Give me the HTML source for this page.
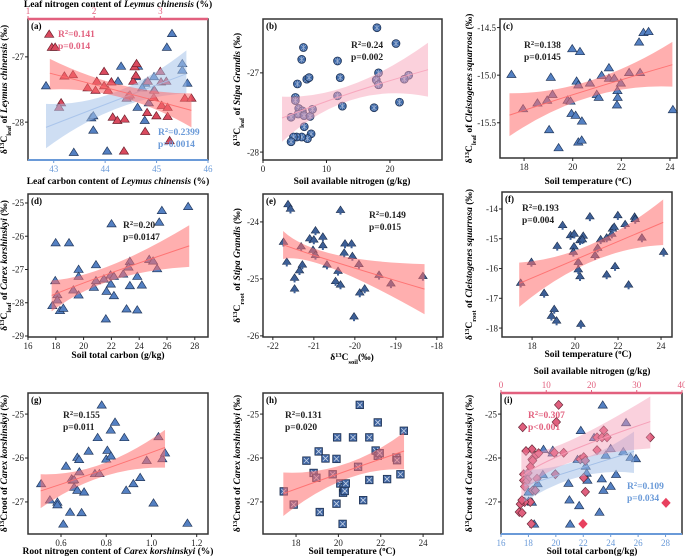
<!DOCTYPE html>
<html><head><meta charset="utf-8"><style>
html,body{margin:0;padding:0;background:#fff;}
svg{display:block;font-family:"Liberation Serif",serif;}
</style></head><body>
<svg id="chart" width="685" height="559" viewBox="0 0 685 559" xmlns="http://www.w3.org/2000/svg"></svg>
<script>
// ---------- DATA ----------
const aCarbonPts=[[45.3,-26.64],[42.85,-27.44],[44.31,-27.14],[44.64,-27.14],[44.6,-27.3],[44.78,-27.4],[44.95,-27.3],[45.5,-27.1],[45.5,-27.2],[45.6,-27.4],[45.2,-26.85],[44.72,-27.47],[44.25,-27.37],[43.73,-27.93],[43.77,-27.9],[43.77,-28.12],[44.63,-27.77],[44.77,-27.97],[43.39,-28.46],[44.04,-28.44],[44.95,-27.5],[44.45,-27.6],[44.85,-27.7]];
const aNitrogenPts=[[1.32,-26.65],[1.36,-26.85],[1.41,-26.85],[1.55,-27.29],[1.68,-27.27],[1.5,-27.7],[1.47,-27.77],[1.9,-27.47],[2.02,-27.51],[2.04,-27.37],[2.15,-27.22],[2.21,-27.51],[2.26,-27.38],[2.15,-27.44],[2.28,-27.92],[2.35,-27.97],[2.46,-27.95],[2.49,-27.63],[2.59,-27.37],[2.61,-27.15],[2.64,-27.1],[2.63,-27.28],[2.81,-27.37],[2.8,-27.85],[2.91,-27.51],[3.0,-27.22],[3.01,-27.38],[3.09,-27.37],[2.94,-27.9],[3.02,-27.74],[3.11,-27.77],[3.11,-27.91],[3.14,-28.28],[2.45,-28.44],[2.77,-28.14],[3.37,-27.63],[3.47,-27.63],[2.54,-27.58],[2.9,-27.62]];
const bPts=[[17.95,-26.43],[20.95,-26.63],[6.37,-26.68],[6.1,-26.83],[11.74,-26.85],[6.9,-27.08],[7.26,-27.06],[5.42,-27.14],[12.16,-27.06],[18.2,-27.0],[17.84,-27.09],[18.2,-27.15],[22.95,-27.03],[22.26,-27.08],[5.1,-27.31],[5.1,-27.35],[11.74,-27.29],[12.5,-27.42],[17.5,-27.44],[21.5,-27.37],[5.63,-27.45],[6.2,-27.48],[6.26,-27.51],[5.53,-27.52],[6.47,-27.54],[7.42,-27.55],[7.8,-27.46],[4.42,-27.56],[6.5,-27.68],[7.58,-27.77],[7.0,-27.83],[6.1,-27.81],[5.3,-27.81],[4.8,-27.81],[4.42,-27.87]];
const cPts=[[17.48,-14.99],[19.1,-15.02],[19.98,-14.72],[20.3,-14.75],[20.16,-15.06],[20.23,-15.1],[20.71,-15.08],[21.19,-15.0],[21.49,-14.92],[21.49,-15.03],[21.71,-15.03],[21.98,-15.08],[21.84,-15.16],[21.85,-15.23],[21.82,-15.31],[22.32,-14.97],[22.77,-14.97],[22.73,-14.65],[22.91,-14.55],[23.12,-14.54],[24.12,-15.36],[19.17,-15.2],[18.95,-15.26],[18.55,-15.29],[17.96,-15.35],[19.79,-15.26],[19.91,-15.27],[20.99,-15.2],[21.07,-15.23],[19.95,-15.4],[20.12,-15.42],[20.38,-15.48],[19.03,-15.57],[19.42,-15.76],[20.23,-15.7],[20.37,-15.68]];
const dPts=[[17.99,-26.19],[18.95,-26.19],[19.64,-26.99],[19.64,-27.2],[20.89,-26.85],[22.01,-25.62],[23.33,-26.75],[25.63,-25.22],[25.44,-25.57],[27.52,-25.1],[17.96,-27.33],[18.11,-27.75],[18.11,-27.91],[17.75,-28.08],[18.3,-28.23],[18.54,-28.16],[19.26,-27.61],[19.64,-27.76],[20.74,-27.53],[20.89,-27.33],[21.46,-27.28],[21.94,-27.16],[22.18,-27.2],[22.85,-27.13],[23.23,-26.92],[23.86,-27.2],[24.19,-27.46],[23.33,-27.48],[21.96,-27.43],[21.65,-27.65],[22.18,-27.78],[23.09,-28.18],[23.86,-28.21],[21.6,-28.48],[24.72,-26.69],[25.0,-26.74],[25.29,-26.97]];
const ePts=[[-21.63,-23.7],[-21.57,-23.78],[-20.35,-23.8],[-21.74,-24.36],[-21.66,-24.71],[-21.47,-24.99],[-21.47,-25.18],[-21.35,-24.86],[-21.28,-24.76],[-21.31,-24.44],[-21.1,-24.3],[-21.0,-24.32],[-20.96,-24.16],[-21.02,-24.5],[-20.96,-24.59],[-20.78,-24.42],[-20.78,-24.27],[-20.68,-24.76],[-20.41,-24.87],[-20.47,-25.05],[-20.35,-25.11],[-20.26,-24.55],[-20.24,-24.39],[-20.08,-24.39],[-20.06,-24.61],[-19.9,-24.75],[-19.88,-25.25],[-19.76,-25.18],[-20.02,-25.67],[-19.41,-24.94],[-19.12,-25.09],[-18.34,-24.96]];
const fPts=[[17.47,-16.5],[17.97,-15.8],[18.56,-16.84],[18.9,-17.61],[19.03,-17.38],[19.14,-17.77],[19.17,-15.26],[19.42,-14.56],[19.79,-14.9],[19.96,-14.85],[19.95,-15.28],[19.92,-15.46],[20.15,-15.8],[20.23,-16.28],[20.15,-16.05],[20.23,-15.07],[20.38,-14.92],[20.34,-15.04],[20.69,-14.27],[21.19,-15.04],[21.05,-15.32],[20.93,-15.57],[21.47,-14.98],[21.71,-14.85],[21.74,-14.68],[21.82,-14.62],[21.86,-15.94],[21.99,-14.23],[22.33,-14.53],[22.77,-14.28],[22.8,-14.36],[23.11,-14.98],[21.47,-16.22],[22.49,-16.56],[20.27,-17.88],[24.12,-15.46]];
const gPts=[[0.512,-26.58],[0.551,-26.95],[0.584,-27.0],[0.584,-27.06],[0.61,-27.5],[0.64,-27.23],[0.622,-26.18],[0.647,-26.47],[0.652,-26.5],[0.658,-26.49],[0.658,-26.66],[0.672,-26.73],[0.681,-26.31],[0.672,-25.98],[0.68,-26.03],[0.691,-27.24],[0.702,-26.77],[0.722,-25.84],[0.75,-26.35],[0.77,-26.35],[0.762,-25.53],[0.78,-24.79],[0.8,-26.02],[0.805,-25.82],[0.821,-25.95],[0.82,-25.36],[0.839,-25.18],[0.88,-25.53],[0.888,-26.73],[0.95,-26.44],[0.92,-26.58],[0.979,-26.05],[1.009,-27.02],[1.031,-25.51],[1.048,-26.01],[1.06,-25.88],[1.159,-27.48]];
const hPts=[[17.42,-26.76],[17.89,-27.06],[18.83,-26.34],[18.96,-26.45],[19.12,-27.23],[19.07,-25.85],[18.49,-26.06],[19.39,-26.01],[19.73,-26.37],[19.91,-26.02],[19.94,-25.53],[19.91,-27.04],[20.09,-26.58],[20.22,-26.79],[20.25,-26.67],[20.3,-26.75],[20.35,-26.58],[20.2,-27.5],[20.69,-25.53],[20.93,-26.2],[21.01,-24.79],[21.17,-26.96],[21.46,-25.53],[21.46,-26.5],[21.76,-25.83],[21.86,-25.95],[21.95,-25.89],[21.86,-25.19],[22.3,-26.48],[22.74,-25.99],[22.77,-26.05],[22.93,-26.37],[23.09,-25.38]];
const iCarbonPts=[[23.42,-24.79],[25.12,-25.19],[21.82,-25.37],[19.76,-25.88],[19.1,-25.8],[19.78,-25.82],[22.79,-25.53],[23.64,-25.93],[24.0,-25.78],[24.92,-25.85],[25.45,-25.98],[25.84,-26.01],[21.58,-26.03],[22.08,-26.01],[22.18,-26.18],[22.25,-26.34],[22.3,-26.5],[23.35,-26.47],[23.47,-26.73],[24.0,-26.64],[24.39,-26.37],[19.05,-26.37],[18.67,-26.58],[18.01,-26.77],[18.01,-26.98],[18.25,-27.0],[18.42,-27.5],[20.92,-26.57],[20.99,-26.95],[21.7,-27.08],[21.04,-27.5],[23.18,-27.23]];
const iNitrogenPts=[[12.74,-24.79],[12.23,-25.18],[4.79,-25.3],[6.85,-25.8],[5.52,-25.84],[7.59,-25.95],[6.85,-26.03],[7.0,-26.06],[8.32,-25.89],[11.79,-25.88],[13.85,-25.88],[17.53,-26.03],[18.27,-25.98],[18.64,-26.06],[12.01,-26.37],[5.01,-26.37],[5.97,-26.34],[6.48,-26.2],[5.89,-26.49],[5.01,-26.51],[5.52,-26.55],[5.23,-26.65],[7.96,-26.47],[7.0,-26.74],[7.59,-26.74],[6.48,-27.0],[5.23,-27.0],[4.27,-27.05],[4.64,-26.96],[4.05,-27.23],[4.64,-27.25],[6.7,-27.5],[18.27,-26.45],[18.64,-26.77],[22.69,-25.37],[21.22,-25.53],[22.32,-25.53],[23.43,-25.53],[21.22,-25.82],[33.0,-25.53]];
const iOutlierPts=[[36.46,-27.02],[18.12,-27.5]];
// bands: x (start, mid, end), fit, lower, upper
const aRedBandX=[1.33,2.4,3.47], aRedFit=[-27.25,-27.53,-27.82], aRedLo=[-27.5,-27.62,-28.08], aRedHi=[-27.03,-27.43,-27.56];
const aBlueBandX=[42.85,44.2,45.58], aBlueFit=[-28.08,-27.67,-27.26], aBlueLo=[-28.4,-27.8,-27.56], aBlueHi=[-27.72,-27.54,-26.9];
const bBandX=[3,14,26], bFit=[-27.57,-27.25,-26.96], bLo=[-27.87,-27.34,-27.3], bHi=[-27.3,-27.15,-26.62];
const cBandX=[17.4,20.7,24.1], cFit=[-15.42,-15.15,-14.89], cLo=[-15.64,-15.23,-15.12], cHi=[-15.19,-15.06,-14.65];
const dBandX=[17.7,22,27.6], dFit=[-27.78,-27.1,-26.29], dLo=[-28.26,-27.33,-26.92], dHi=[-27.33,-26.87,-25.67];
const eBandX=[-21.75,-20.5,-18.3], eFit=[-24.4,-24.7,-25.18], eLo=[-24.65,-24.83,-25.62], eHi=[-24.16,-24.57,-24.74];
const fBandX=[17.4,20.7,24.1], fFit=[-16.5,-15.49,-14.45], fLo=[-17.29,-15.79,-15.21], fHi=[-15.8,-15.2,-13.68];
const gBandX=[0.51,0.78,1.06], gFit=[-26.75,-26.28,-25.76], gLo=[-27.14,-26.43,-26.22], gHi=[-26.37,-26.14,-25.36];
const hBandX=[17.4,20.3,23.1], hFit=[-26.81,-26.31,-25.84], hLo=[-27.32,-26.49,-26.26], hHi=[-26.33,-26.14,-25.42];
const iPinkBandX=[4.5,14,33], iPinkFit=[-26.43,-25.9,-25.17], iPinkLo=[-26.92,-26.15,-25.78], iPinkHi=[-25.85,-25.66,-24.6];
const iBlueBandX=[17.7,21.7,25.7], iBlueFit=[-26.63,-26.24,-25.85], iBlueLo=[-27.0,-26.43,-26.34], iBlueHi=[-26.27,-26.05,-25.4];
// ticks
const aXTicks=[43,44,45,46], aTopTicks=[1,2,3], aYTicks=[-27,-28];
const bXTicks=[0,10,20], bYTicks=[-27,-28];
const cXTicks=[18,20,22,24], cYTicks=[-14.5,-15.0,-15.5];
const dXTicks=[16,18,20,22,24,26,28], dYTicks=[-25,-26,-27,-28,-29];
const eXTicks=[-22,-21,-20,-19,-18], eYTicks=[-24,-25,-26];
const fXTicks=[18,20,22,24], fYTicks=[-14,-15,-16,-17,-18];
const gXTicks=[0.6,0.8,1.0,1.2], gYTicks=[-25,-26,-27];
const hXTicks=[18,20,22,24], hYTicks=[-25,-26,-27];
const iXTicks=[16,18,20,22,24,26,28], iTopTicks=[0,10,20,30,40], iYTicks=[-25,-26,-27];

// ---------- DRAWING ----------
const NS='http://www.w3.org/2000/svg';
const svg=document.getElementById('chart');
function mk(tag,attrs,parent){const e=document.createElementNS(NS,tag);for(const k in attrs)e.setAttribute(k,attrs[k]);(parent||svg).appendChild(e);return e;}
function fmt(v,dec){const s=Math.abs(v).toFixed(dec);return (v<0?'-':'')+s;}
function makeScale(d0,d1,p0,p1){return v=>p0+(v-d0)/(d1-d0)*(p1-p0);}

function drawMarker(g,shape,x,y,fill,stroke){
  let m;
  if(shape==='tri'){m=mk('polygon',{points:`${x},${y-4} ${x-4.6},${y+3.3} ${x+4.6},${y+3.3}`,fill:fill,stroke:stroke,'stroke-width':0.7},g);}
  else if(shape==='club'){m=mk('g',{},g);
    mk('polygon',{points:`${x},${y-4.5} ${x-4.3},${y+2} ${x+4.3},${y+2}`,fill:fill,stroke:stroke,'stroke-width':0.6},m);
    mk('rect',{x:x-1,y:y+1.5,width:2,height:2.6,fill:fill},m);}
  else if(shape==='star'){m=mk('g',{},g);
    mk('circle',{cx:x,cy:y,r:4,fill:fill,stroke:stroke,'stroke-width':0.7},m);
    mk('path',{d:`M${x-2.4},${y-2.4}L${x+2.4},${y+2.4}M${x+2.4},${y-2.4}L${x-2.4},${y+2.4}M${x},${y-3.2}L${x},${y+3.2}`,stroke:'#9fb3d4','stroke-width':0.7},m);}
  else if(shape==='sq'){m=mk('g',{},g);
    mk('rect',{x:x-3.8,y:y-3.8,width:7.6,height:7.6,fill:fill,stroke:stroke,'stroke-width':0.7},m);
    mk('path',{d:`M${x-2.5},${y-2.5}L${x+2.5},${y+2.5}M${x+2.5},${y-2.5}L${x-2.5},${y+2.5}`,stroke:'#c9d6ea','stroke-width':0.8},m);}
  else if(shape==='dia'){m=mk('polygon',{points:`${x},${y-4.5} ${x+4.2},${y} ${x},${y+4.5} ${x-4.2},${y}`,fill:fill,stroke:stroke,'stroke-width':0.7},g);}
  
  
}

function drawBand(g,sx,sy,bx,fit,lo,hi,color,op,name){
  function curve(vals){const S=[sx(bx[0]),sy(vals[0])],M=[sx(bx[1]),sy(vals[1])],E=[sx(bx[2]),sy(vals[2])];
    const C=[2*M[0]-(S[0]+E[0])/2,2*M[1]-(S[1]+E[1])/2];return {S,C,E};}
  const u=curve(hi),l=curve(lo),f=curve(fit);
  const band=mk('path',{d:`M${u.S[0]},${u.S[1]}Q${u.C[0]},${u.C[1]} ${u.E[0]},${u.E[1]}L${l.E[0]},${l.E[1]}Q${l.C[0]},${l.C[1]} ${l.S[0]},${l.S[1]}Z`,fill:color,'fill-opacity':op},g);
  
  
  const line=mk('path',{d:`M${f.S[0]},${f.S[1]}Q${f.C[0]},${f.C[1]} ${f.E[0]},${f.E[1]}`,fill:'none',stroke:color,'stroke-width':1,'stroke-opacity':0.9},g);
  
  
}

function axisX(g,ticks,sx,y,dir,dec,color){
  ticks.forEach(t=>{const x=sx(t);
    const tk=mk('line',{x1:x,x2:x,y1:y,y2:y+3*dir,stroke:color,'stroke-width':1},g);
    
    
    const lb=mk('text',{x:x,y:dir>0?y+12:y-5,'text-anchor':'middle','font-size':9,fill:color},g);
    
    
    lb.textContent=fmt(t,dec);});
}
function axisY(g,ticks,sy,x,dec){
  ticks.forEach(t=>{const y=sy(t);
    const tk=mk('line',{x1:x,x2:x-3,y1:y,y2:y,stroke:'#222','stroke-width':1},g);
    
    
    const lb=mk('text',{x:x-4,y:y+3.2,'text-anchor':'end','font-size':9,fill:'#222'},g);
    
    
    lb.textContent=fmt(t,dec);});
}
function richText(g,x,y,parts,attrs){
  const t=mk('text',Object.assign({x:x,y:y},attrs),g);
  parts.forEach(p=>{const s=mk('tspan',{},t);
    if(p.it)s.setAttribute('font-style','italic');
    if(p.sup){s.setAttribute('baseline-shift','super');s.setAttribute('font-size','6.5');}
    if(p.sub){s.setAttribute('baseline-shift','sub');s.setAttribute('font-size','6.5');}
    s.textContent=p.t;});
  return t;
}
function yTitle(g,x,y,sub,species){
  const parts=[{t:'\u03b4'},{t:'13',sup:1},{t:'C'}];
  if(sub)parts.push({t:sub,sub:1});else parts.push({t:'root'});
  parts.push({t:' of '},{t:species,it:1},{t:' (\u2030)'});
  const t=richText(g,0,0,parts,{'font-size':9.5,'font-weight':'bold','text-anchor':'middle',transform:`translate(${x},${y}) rotate(-90)`});
  
  
}
function annot(g,x,y,r2,p,color){
  const a=richText(g,x,y,[{t:'R'},{t:'2',sup:1},{t:'='+r2}],{'font-size':9.5,'font-weight':'bold',fill:color});
  
  
  const b=mk('text',{x:x,y:y+12,'font-size':9.5,'font-weight':'bold',fill:color},g);
  
  
  b.textContent=p;
}

function panel(cfg){
  const g=mk('g',{});
  
  
  const [x0,y0,x1,y1]=cfg.box;
  const sx=makeScale(cfg.xd[0],cfg.xd[1],x0,x1), sy=makeScale(cfg.yd[0],cfg.yd[1],y1,y0);
  cfg.series.forEach(s=>{const sxx=s.top?makeScale(cfg.td[0],cfg.td[1],x0,x1):sx;
    s.pts.forEach(p=>drawMarker(g,s.shape,sxx(p[0]),sy(p[1]),s.fill,s.stroke));});
  cfg.bands.forEach(b=>{const sxx=b.top?makeScale(cfg.td[0],cfg.td[1],x0,x1):sx;
    drawBand(g,sxx,sy,b.x,b.fit,b.lo,b.hi,b.color,b.op,b.name);});
  const fr=mk('rect',{x:x0,y:y0,width:x1-x0,height:y1-y0,fill:'none',stroke:'#333','stroke-width':1.5},g);
  
  
  if(cfg.bottomColor){const l=mk('line',{x1:x0,x2:x1,y1:y1,y2:y1,stroke:cfg.bottomColor,'stroke-width':2},g);
    
    }
  if(cfg.topTicks){const l=mk('line',{x1:x0,x2:x1,y1:y0,y2:y0,stroke:cfg.topColor,'stroke-width':2.5},g);
    
    
    axisX(g,cfg.topTicks,makeScale(cfg.td[0],cfg.td[1],x0,x1),y0,-1,0,cfg.topColor);}
  axisX(g,cfg.xTicks,sx,y1,1,cfg.xdec,cfg.bottomColor||'#222');
  axisY(g,cfg.yTicks,sy,x0,cfg.ydec);
  const lab=mk('text',{x:x0+3,y:y0+10,'font-size':9,'font-weight':'bold'},g);
  
  
  lab.textContent='('+cfg.id+')';
  yTitle(g,cfg.ytx,(y0+y1)/2,cfg.ysub,cfg.species);
  const xt=richText(g,cfg.xtx,cfg.xty,cfg.xtitle,{'font-size':9.5,'font-weight':'bold','text-anchor':'middle'});
  
  
  if(cfg.toptitle){const tt=richText(g,cfg.xtx,cfg.tty,cfg.toptitle,{'font-size':9.5,'font-weight':'bold','text-anchor':'middle'});
    
    }
  cfg.annots.forEach(a=>annot(g,a[0],a[1],a[2],a[3],a[4]));
}

const BLUE='#5480c2',BLUEE='#23395e',RED='#d94a5e',REDE='#6e1f2c',BAND='#ff6e6e',PINK='#e2607e';
const CK='Carex korshinskyi';
panel({id:'a',box:[28,19,208,160],xd:[42.5,46],yd:[-28.58,-26.42],td:[1.0,3.72],
  series:[{pts:aCarbonPts,shape:'tri',fill:BLUE,stroke:BLUEE},{pts:aNitrogenPts,shape:'tri',fill:RED,stroke:REDE,top:1}],
  bands:[{x:aBlueBandX,fit:aBlueFit,lo:aBlueLo,hi:aBlueHi,color:'#a6c2ea',op:0.55,name:'carbon'},{x:aRedBandX,fit:aRedFit,lo:aRedLo,hi:aRedHi,color:BAND,op:0.55,top:1,name:'nitrogen'}],
  xTicks:aXTicks,xdec:0,yTicks:aYTicks,ydec:0,topTicks:aTopTicks,topColor:PINK,bottomColor:'#6a9ad8',
  ytx:7,ysub:'leaf',species:'Leymus chinensis',xtx:118,xty:184,tty:7,
  xtitle:[{t:'Leaf carbon content of '},{t:'Leymus chinensis',it:1},{t:' (%)'}],
  toptitle:[{t:'Leaf nitrogen content of '},{t:'Leymus chinensis',it:1},{t:' (%)'}],
  annots:[[58,37,'0.141','p=0.014',PINK],[158,135,'0.2399','p=0.0014','#6a9ad8']]});
panel({id:'b',box:[263,19,442,160],xd:[0,28.2],yd:[-28.1,-26.32],
  series:[{pts:bPts,shape:'star',fill:'#3e69a8',stroke:'#1e3050'}],
  bands:[{x:bBandX,fit:bFit,lo:bLo,hi:bHi,color:'#f7a3ba',op:0.5,name:'fit'}],
  xTicks:bXTicks,xdec:0,yTicks:bYTicks,ydec:0,ytx:240,ysub:'leaf',species:'Stipa Grandis',xtx:352,xty:184,
  xtitle:[{t:'Soil available nitrogen (g/kg)'}],annots:[[351,48,'0.24','p=0.002','#222']]});
panel({id:'c',box:[500,19,677,158],xd:[17.01,24.29],yd:[-15.87,-14.41],
  series:[{pts:cPts,shape:'tri',fill:BLUE,stroke:BLUEE}],
  bands:[{x:cBandX,fit:cFit,lo:cLo,hi:cHi,color:BAND,op:0.55,name:'fit'}],
  xTicks:cXTicks,xdec:0,yTicks:cYTicks,ydec:1,ytx:472,ysub:'leaf',species:'Cleistogenes squarrosa',xtx:588,xty:184,
  xtitle:[{t:'Soil temperature ('},{t:'o',sup:1},{t:'C)'}],annots:[[524,48,'0.138','p=0.0145','#222']]});
panel({id:'d',box:[28,194,208,337],xd:[16,28.95],yd:[-29.03,-24.73],
  series:[{pts:dPts,shape:'tri',fill:BLUE,stroke:BLUEE}],
  bands:[{x:dBandX,fit:dFit,lo:dLo,hi:dHi,color:BAND,op:0.55,name:'fit'}],
  xTicks:dXTicks,xdec:0,yTicks:dYTicks,ydec:0,ytx:7,ysub:'leaf',species:CK,xtx:118,xty:358,
  xtitle:[{t:'Soil total carbon (g/kg)'}],annots:[[123,228,'0.20','p=0.0147','#222']]});
panel({id:'e',box:[263,194,443,337],xd:[-22.24,-17.85],yd:[-26.02,-23.51],
  series:[{pts:ePts,shape:'club',fill:'#3d5f96',stroke:'#1b2c4a'}],
  bands:[{x:eBandX,fit:eFit,lo:eLo,hi:eHi,color:BAND,op:0.55,name:'fit'}],
  xTicks:eXTicks,xdec:0,yTicks:eYTicks,ydec:0,ytx:240,ysub:'root',species:'Stipa Grandis',xtx:352,xty:360,
  xtitle:[{t:'\u03b4'},{t:'13',sup:1},{t:'C'},{t:'soil',sub:1},{t:'(\u2030)'}],annots:[[369,218,'0.149','p=0.015','#222']]});
panel({id:'f',box:[502,192,672,337],xd:[16.6,24.51],yd:[-18.3,-13.43],
  series:[{pts:fPts,shape:'club',fill:'#3d5f96',stroke:'#1b2c4a'}],
  bands:[{x:fBandX,fit:fFit,lo:fLo,hi:fHi,color:BAND,op:0.55,name:'fit'}],
  xTicks:fXTicks,xdec:0,yTicks:fYTicks,ydec:0,ytx:472,ysub:'root',species:'Cleistogenes squarrosa',xtx:588,xty:357,
  xtitle:[{t:'Soil temperature ('},{t:'o',sup:1},{t:'C)'}],annots:[[522,211,'0.193','p=0.004','#222']]});
panel({id:'g',box:[28,393,208,534],xd:[0.454,1.25],yd:[-27.73,-24.52],
  series:[{pts:gPts,shape:'tri',fill:BLUE,stroke:BLUEE}],
  bands:[{x:gBandX,fit:gFit,lo:gLo,hi:gHi,color:BAND,op:0.55,name:'fit'}],
  xTicks:gXTicks,xdec:1,yTicks:gYTicks,ydec:0,ytx:7,ysub:'',species:CK,xtx:118,xty:554,
  xtitle:[{t:'Root nitrogen content of '},{t:CK,it:1},{t:'  (%)'}],annots:[[63,418,'0.155','p=0.011','#222']]});
panel({id:'h',box:[263,393,443,534],xd:[16.44,24.94],yd:[-27.73,-24.52],
  series:[{pts:hPts,shape:'sq',fill:'#3f64a0',stroke:'#1b2c4a'}],
  bands:[{x:hBandX,fit:hFit,lo:hLo,hi:hHi,color:BAND,op:0.55,name:'fit'}],
  xTicks:hXTicks,xdec:0,yTicks:hYTicks,ydec:0,ytx:240,ysub:'',species:CK,xtx:352,xty:554,
  xtitle:[{t:'Soil temperature ('},{t:'o',sup:1},{t:'C)'}],annots:[[285,418,'0.131','p=0.020','#222']]});
panel({id:'i',box:[501,393,682,534],xd:[16,29.2],yd:[-27.73,-24.52],td:[0,40],
  series:[{pts:iCarbonPts,shape:'tri',fill:BLUE,stroke:BLUEE},{pts:iNitrogenPts,shape:'dia',fill:'#e0607e',stroke:'#6a2a3a',top:1},{pts:iOutlierPts,shape:'dia',fill:'#e8405e',stroke:'#e8405e',top:1}],
  bands:[{x:iBlueBandX,fit:iBlueFit,lo:iBlueLo,hi:iBlueHi,color:'#9dbbe6',op:0.5,name:'carbon'},{x:iPinkBandX,fit:iPinkFit,lo:iPinkLo,hi:iPinkHi,color:'#f59ab4',op:0.45,top:1,name:'nitrogen'}],
  xTicks:iXTicks,xdec:0,yTicks:iYTicks,ydec:0,topTicks:iTopTicks,topColor:PINK,bottomColor:'#6a9ad8',
  ytx:472,ysub:'',species:CK,xtx:592,xty:554,tty:374,
  xtitle:[{t:'Soil total carbon(g/kg)'}],toptitle:[{t:'Soil available nitrogen (g/kg)'}],
  annots:[[528,418,'0.307','p<0.001',PINK],[627,489,'0.109','p=0.034','#6a9ad8']]});
</script>
</body></html>
